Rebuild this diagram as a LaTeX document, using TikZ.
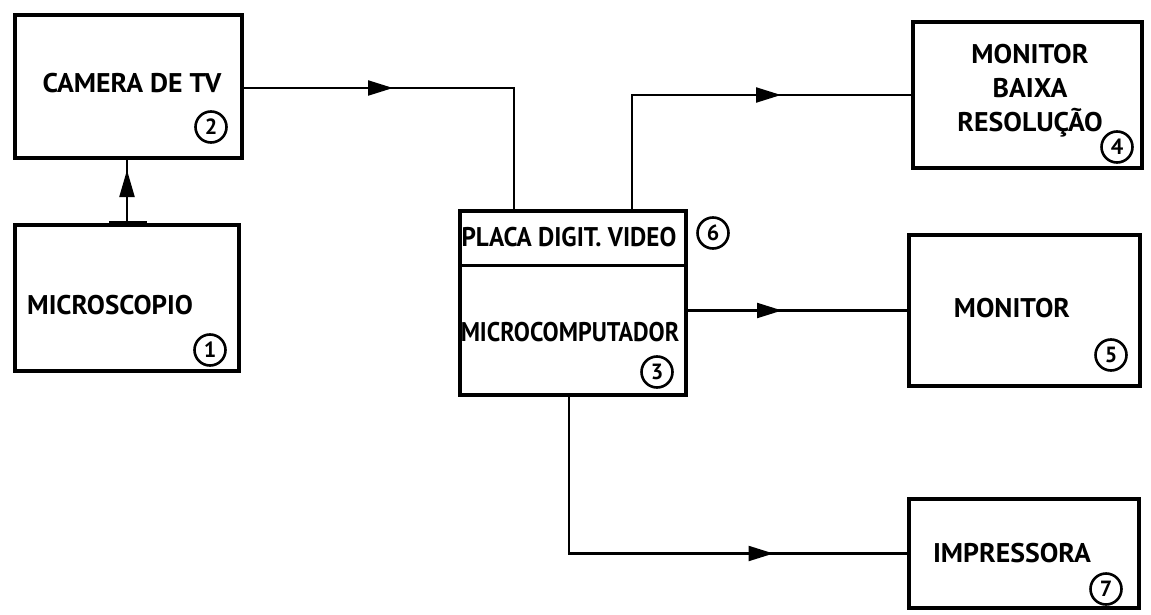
\documentclass[tikz,border=0pt]{standalone}
\usepackage{fontspec}
\setmainfont{PT Sans}
\usetikzlibrary{arrows.meta,decorations.markings}
\begin{document}
\begin{tikzpicture}[x=1pt,y=-1pt,
  box/.style={draw, line width=4pt, inner sep=0pt, anchor=north west},
  conn/.style={line width=2.2pt},
  num/.style={draw, circle, line width=2.6pt, minimum size=31pt, inner sep=0pt, font=\bfseries\fontsize{22}{22}\selectfont},
  lbl/.style={font=\bfseries\fontsize{27}{34}\selectfont, inner sep=0pt, align=center},
  midarrow/.style={postaction={decorate}, decoration={markings, mark=at position #1 with {\arrow{Triangle[length=25pt,width=15pt]}}}}
]
\useasboundingbox (0,0) rectangle (1151,615);
% boxes
\node[box, minimum width=227pt, minimum height=143pt] (cam) at (13,13) {};
\node[box, minimum width=224pt, minimum height=146pt] (mic) at (13,223) {};
\node[box, minimum width=226pt, minimum height=184pt] (mid) at (458,209) {};
\node[box, minimum width=229pt, minimum height=146pt] (mfour) at (911,20) {};
\node[box, minimum width=231pt, minimum height=151pt] (mfive) at (907,233) {};
\node[box, minimum width=230pt, minimum height=109pt] (imp) at (907,497) {};
\coordinate (dl) at (458,265);
\draw[line width=3pt] (dl) -- (dl -| mid.east);
% texts
\node[lbl, xscale=1.03] (tcam) at (132,83) {CAMERA DE TV};
\node[lbl, anchor=west, xscale=1.0] (tmic) at (27,305) {MICROSCOPIO};
\node[lbl, xscale=0.93] (tpla) at (569,237) {PLACA DIGIT. VIDEO};
\node[lbl, xscale=0.89] (tmc) at (570,332) {MICROCOMPUTADOR};
\node[lbl, xscale=1.03] (tfour) at (1030,91) {MONITOR\\BAIXA\\RESOLUÇÃO};
\node[lbl, xscale=1.02] (tfive) at (1012,308) {MONITOR};
\node[lbl, xscale=1.03] (timp) at (1012,553) {IMPRESSORA};
% numbers
\node[num] (n2) at (211,127) {2};
\node[num] (n1) at (210,350) {1};
\node[num] (n6) at (713,233) {6};
\node[num] (n3) at (657,372) {3};
\node[num] (n4) at (1117,147) {4};
\node[num] (n5) at (1111,355) {5};
\node[num] (n7) at (1106,589) {7};
% connectors
\coordinate (k1) at (514,88);
\coordinate (k2) at (632,209);
\coordinate (k3) at (569,393);
\draw[conn, midarrow=149pt] (cam.east |- k1) -- (k1) -- (k1 |- mid.north);
\draw[conn, midarrow=263pt] (k2) |- (mfour.west);
\draw[conn, midarrow=94pt] (mid.east |- mfive.west) -- (mfive.west);
\draw[conn, midarrow=365pt] (k3) |- (imp.west);
% microscope to camera
\draw[white, line width=4pt] ([xshift=-18pt]mic.north |- cam.south) -- ([xshift=20pt]mic.north |- cam.south);
\draw[line width=2pt] ([xshift=-18pt,yshift=1pt]mic.north |- cam.south) -- ([xshift=20pt,yshift=1pt]mic.north |- cam.south);
\draw[conn, postaction={decorate}, decoration={markings, mark=at position 53pt with {\arrow{Triangle[length=27pt,width=15pt]}}}] (mic.north) -- ([yshift=1pt]mic.north |- cam.south);
\draw[line width=5pt] ([xshift=-18pt]mic.north) -- ([xshift=20pt]mic.north);
\end{tikzpicture}
\end{document}
